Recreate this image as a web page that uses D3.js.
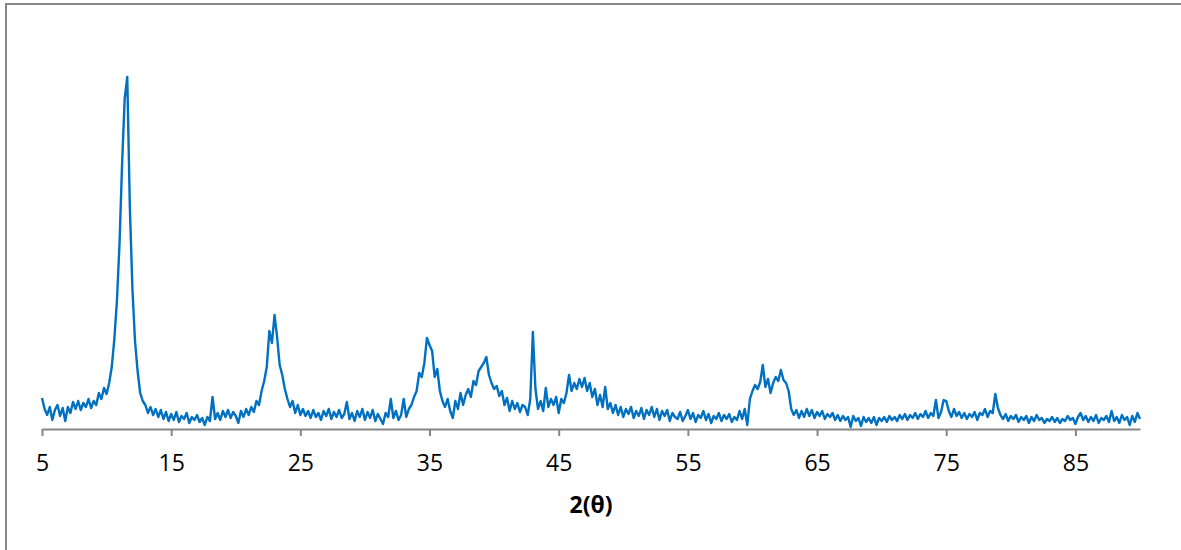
<!DOCTYPE html>
<html>
<head>
<meta charset="utf-8">
<script src="https://cdn.jsdelivr.net/npm/d3@7"></script>
<style>
  html, body { margin: 0; padding: 0; background: #ffffff; }
  svg { display: block; }
  .tick text { font-family: "Open Sans", "Liberation Sans", sans-serif; }
</style>
</head>
<body>
<svg id="chart" width="1181" height="550"></svg>
<script>
// XRD scan: intensity recorded every 0.2 degrees of 2θ, from 5 to 90
const startAngle = 5;
const angleStep = 0.2;

// each row covers 2 degrees (10 readings)
const intensity = [
  93, 60, 42, 66, 27, 57, 72, 39, 63, 24,        // 5
  66, 48, 81, 60, 84, 57, 78, 66, 90, 63,        // 7
  84, 72, 108, 90, 123, 105, 138, 186, 270, 384, // 9
  555, 795, 990, 1056, 666, 420, 264, 174, 108, 84, // 11
  72, 48, 66, 42, 60, 36, 57, 30, 51, 24,        // 13
  45, 27, 51, 21, 39, 30, 48, 18, 36, 27,        // 15
  42, 21, 33, 12, 36, 24, 96, 30, 48, 27,        // 17
  54, 36, 57, 33, 51, 39, 18, 54, 36, 60,        // 19
  42, 66, 51, 84, 72, 114, 144, 186, 294, 258,   // 21
  342, 276, 192, 162, 120, 90, 66, 84, 48, 72,   // 23
  42, 60, 39, 54, 33, 57, 36, 48, 27, 54,        // 25
  39, 60, 30, 51, 36, 57, 33, 45, 81, 30,        // 27
  48, 24, 54, 36, 60, 27, 51, 33, 57, 24,        // 29
  45, 30, 15, 48, 36, 90, 33, 54, 27, 42,        // 31
  90, 36, 60, 72, 96, 114, 168, 156, 198, 273,   // 33
  252, 234, 156, 180, 114, 84, 66, 90, 54, 33,   // 35
  84, 60, 108, 72, 102, 120, 96, 144, 132, 174,  // 37
  186, 198, 216, 162, 138, 120, 129, 99, 114, 72, // 39
  93, 54, 84, 60, 78, 51, 72, 66, 42, 90,        // 41
  291, 120, 60, 84, 54, 123, 66, 90, 72, 96,     // 43
  48, 90, 78, 108, 162, 114, 138, 120, 150, 126, // 45
  153, 114, 138, 96, 120, 72, 102, 66, 126, 60,  // 47
  78, 48, 72, 42, 66, 36, 60, 45, 66, 33,        // 49
  54, 39, 63, 30, 57, 42, 66, 36, 60, 27,        // 51
  54, 39, 57, 24, 48, 36, 30, 51, 24, 39,        // 53
  57, 30, 48, 21, 42, 33, 54, 27, 45, 18,        // 55
  39, 30, 48, 24, 42, 30, 45, 21, 36, 27,        // 57
  54, 30, 60, 12, 90, 114, 132, 120, 141, 192,   // 59
  126, 150, 108, 138, 156, 144, 177, 147, 138, 114, // 61
  60, 42, 57, 33, 54, 36, 60, 39, 57, 33,        // 63
  51, 39, 54, 30, 45, 36, 48, 27, 42, 24,        // 65
  39, 27, 36, 6, 39, 24, 33, 9, 36, 21,          // 67
  33, 18, 36, 12, 33, 24, 36, 21, 39, 27,        // 69
  36, 24, 42, 30, 45, 27, 42, 33, 48, 30,        // 71
  45, 36, 54, 33, 48, 39, 87, 33, 51, 87,        // 73
  84, 54, 36, 60, 39, 51, 33, 48, 30, 45,        // 75
  36, 51, 27, 48, 42, 60, 36, 54, 48, 105,       // 77
  63, 42, 30, 45, 24, 39, 30, 42, 21, 36,        // 79
  27, 39, 18, 36, 24, 42, 27, 33, 18, 30,        // 81
  24, 36, 21, 33, 18, 30, 24, 39, 27, 33,        // 83
  15, 36, 48, 27, 39, 21, 36, 24, 42, 18,        // 85
  33, 27, 39, 21, 54, 24, 36, 18, 42, 27,        // 87
  36, 12, 39, 21, 48, 30                         // 89
];

const xTicks = [5, 15, 25, 35, 45, 55, 65, 75, 85];
const xTitle = "2(θ)";

const scan = intensity.map((v, i) => ({ angle: startAngle + i * angleStep, value: v }));

const svg = d3.select("#chart");
const axisColor = "#868686";

// outer chart frame
svg.append("rect")
  .attr("x", 6).attr("y", 4)
  .attr("width", 1200).attr("height", 560)
  .attr("fill", "none")
  .attr("stroke", axisColor)
  .attr("stroke-width", 2);

const x = d3.scaleLinear().domain([5, 90]).range([42, 1140]);
const y = d3.scaleLinear().domain([0, 1100]).range([429, 62.3]);

// horizontal axis
const xAxis = d3.axisBottom(x)
  .tickValues(xTicks)
  .tickFormat(d3.format("d"))
  .tickSize(7)
  .tickPadding(19)
  .tickSizeOuter(0);

const gx = svg.append("g")
  .attr("transform", `translate(0,${y(0)})`)
  .call(xAxis);
gx.select(".domain").attr("stroke", axisColor).attr("stroke-width", 2);
gx.selectAll(".tick line").attr("stroke", axisColor).attr("stroke-width", 2);
gx.selectAll(".tick text")
  .attr("fill", "#000")
  .style("font-size", "23px");

// diffraction trace
const line = d3.line()
  .x(d => x(d.angle))
  .y(d => y(d.value));

svg.append("path")
  .datum(scan)
  .attr("d", line)
  .attr("fill", "none")
  .attr("stroke", "#0070C0")
  .attr("stroke-width", 2.4)
  .attr("stroke-linejoin", "round");

// axis title
svg.append("text")
  .attr("x", (x(5) + x(90)) / 2)
  .attr("y", 513)
  .attr("text-anchor", "middle")
  .style("font-family", "'Open Sans', 'Liberation Sans', sans-serif")
  .style("font-size", "23px")
  .style("font-weight", "bold")
  .attr("fill", "#000")
  .text(xTitle);
</script>
</body>
</html>
